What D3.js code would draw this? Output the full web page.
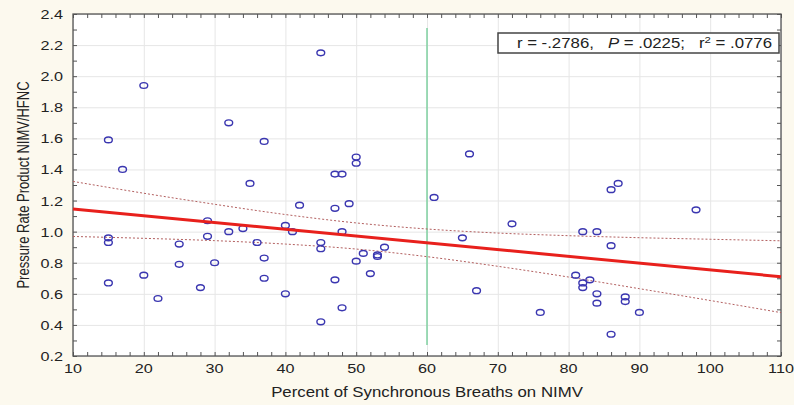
<!DOCTYPE html>
<html>
<head>
<meta charset="utf-8">
<script src="https://cdn.jsdelivr.net/npm/d3@7"></script>
<style>
body { margin: 0; background: #fcf9ee; }
svg { display: block; }
</style>
</head>
<body>
<svg id="chart"></svg>
<script>
// percent of synchronous breaths (x) and pressure rate product ratio (y)
var synchPct = [15, 17, 20, 32, 37, 35, 45, 47, 48, 50, 50,
                66, 86, 87, 61,
                15, 15, 15, 20, 22, 25, 25, 28, 29, 29, 30, 32, 34, 36, 37, 37, 40, 40, 41, 42,
                45, 45, 45, 47, 47, 48, 48, 49, 50, 51, 52, 53, 53, 54,
                98, 72, 65, 82, 84, 86, 81, 82, 82, 83, 84, 84, 88, 88, 90, 76, 67, 86];
var prpRatio = [1.59, 1.40, 1.94, 1.70, 1.58, 1.31, 2.15, 1.37, 1.37, 1.48, 1.44,
                1.50, 1.27, 1.31, 1.22,
                0.96, 0.93, 0.67, 0.72, 0.57, 0.92, 0.79, 0.64, 1.07, 0.97, 0.80, 1.00, 1.02, 0.93, 0.83, 0.70, 1.04, 0.60, 1.00, 1.17,
                0.93, 0.89, 0.42, 1.15, 0.69, 1.00, 0.51, 1.18, 0.81, 0.86, 0.73, 0.85, 0.84, 0.90,
                1.14, 1.05, 0.96, 1.00, 1.00, 0.91, 0.72, 0.67, 0.64, 0.69, 0.60, 0.54, 0.58, 0.55, 0.48, 0.48, 0.62, 0.34];

// regression line and 95% band
var fitX = [10, 110];
var fitY = [1.146, 0.710];
var bandX = [10, 20, 30, 40, 50, 60, 70, 80, 90, 100, 110];
var bandUpper = [1.323, 1.247, 1.176, 1.110, 1.056, 1.017, 0.991, 0.974, 0.961, 0.951, 0.941];
var bandLower = [0.969, 0.957, 0.942, 0.920, 0.888, 0.839, 0.777, 0.708, 0.633, 0.557, 0.479];

// cutoff marker at 60%
var cutoffX = [60, 60];
var cutoffY = [0.27, 2.31];

var xTicks = [10, 20, 30, 40, 50, 60, 70, 80, 90, 100, 110];
var yTicks = [0.2, 0.4, 0.6, 0.8, 1.0, 1.2, 1.4, 1.6, 1.8, 2.0, 2.2, 2.4];
var xMinor = d3.range(10, 111, 2);
var yMinor = d3.range(2, 25, 1).map(function(d) { return d / 10; });

var xTitle = "Percent of Synchronous Breaths on NIMV";
var yTitle = "Pressure Rate Product NIMV/HFNC";

var width = 794, height = 405;
var pLeft = 73, pRight = 781, pTop = 14, pBottom = 356;
var stretch = 1.2;

var svg = d3.select("#chart")
    .attr("width", width)
    .attr("height", height)
    .style("font-family", "Arial, 'Liberation Sans', sans-serif");

var x = d3.scaleLinear().domain([10, 110]).range([pLeft, pRight]);
var y = d3.scaleLinear().domain([0.2, 2.4]).range([pBottom, pTop]);

// plot area
svg.append("rect")
    .attr("x", pLeft).attr("y", pTop)
    .attr("width", pRight - pLeft).attr("height", pBottom - pTop)
    .attr("fill", "#ffffff");

// grid
svg.append("g")
    .attr("transform", "translate(0," + pBottom + ")")
    .call(d3.axisBottom(x).tickValues(xTicks).tickSize(-(pBottom - pTop)).tickFormat(""))
    .call(function(g) { g.select(".domain").remove(); })
    .selectAll("line").attr("stroke", "#e6e6e6");
svg.append("g")
    .attr("transform", "translate(" + pLeft + ",0)")
    .call(d3.axisLeft(y).tickValues(yTicks).tickSize(-(pRight - pLeft)).tickFormat(""))
    .call(function(g) { g.select(".domain").remove(); })
    .selectAll("line").attr("stroke", "#e6e6e6");

// minor ticks on all sides, pointing inward
function ticks(g) {
  g.select(".domain").remove();
  g.selectAll("line").attr("stroke", "#555").attr("stroke-width", 1);
}
svg.append("g").attr("transform", "translate(0," + pBottom + ")")
    .call(d3.axisBottom(x).tickValues(xMinor).tickSize(-4).tickFormat("")).call(ticks);
svg.append("g").attr("transform", "translate(0," + pTop + ")")
    .call(d3.axisTop(x).tickValues(xMinor).tickSize(-4).tickFormat("")).call(ticks);
svg.append("g").attr("transform", "translate(" + pLeft + ",0)")
    .call(d3.axisLeft(y).tickValues(yMinor).tickSize(-4).tickFormat("")).call(ticks);
svg.append("g").attr("transform", "translate(" + pRight + ",0)")
    .call(d3.axisRight(y).tickValues(yMinor).tickSize(-4).tickFormat("")).call(ticks);

// frame
svg.append("rect")
    .attr("x", pLeft).attr("y", pTop)
    .attr("width", pRight - pLeft).attr("height", pBottom - pTop)
    .attr("fill", "none").attr("stroke", "#555").attr("stroke-width", 1.3);

// tick labels
svg.append("g").selectAll("text")
    .data(xTicks).enter().append("text")
    .attr("transform", function(d) { return "translate(" + x(d) + "," + (pBottom + 17) + ") scale(" + stretch + ",1)"; })
    .attr("text-anchor", "middle")
    .attr("font-size", 13.5)
    .attr("fill", "#222")
    .text(function(d) { return d; });
svg.append("g").selectAll("text")
    .data(yTicks).enter().append("text")
    .attr("transform", function(d) { return "translate(" + (pLeft - 10) + "," + (y(d) + 5) + ") scale(" + stretch + ",1)"; })
    .attr("text-anchor", "end")
    .attr("font-size", 13.5)
    .attr("fill", "#222")
    .text(function(d) { return d3.format(".1f")(d); });

// axis titles
svg.append("text")
    .attr("transform", "translate(" + 427 + "," + 397 + ") scale(" + stretch + ",1)")
    .attr("text-anchor", "middle")
    .attr("font-size", 14)
    .attr("fill", "#222")
    .text(xTitle);
svg.append("text")
    .attr("transform", "translate(" + 29 + "," + 185 + ") scale(" + stretch + ",1) rotate(-90)")
    .attr("text-anchor", "middle")
    .attr("font-size", 13)
    .attr("fill", "#222")
    .text(yTitle);

// cutoff line
svg.append("line")
    .attr("x1", x(cutoffX[0])).attr("x2", x(cutoffX[1]))
    .attr("y1", y(cutoffY[0])).attr("y2", y(cutoffY[1]))
    .attr("stroke", "#7fd0a0").attr("stroke-width", 1.5);

// confidence band
var bandLine = d3.line().curve(d3.curveMonotoneX)
    .x(function(d) { return x(d[0]); })
    .y(function(d) { return y(d[1]); });
[bandUpper, bandLower].forEach(function(b) {
  svg.append("path")
      .attr("d", bandLine(d3.zip(bandX, b)))
      .attr("fill", "none")
      .attr("stroke", "#b36060")
      .attr("stroke-width", 1)
      .attr("stroke-dasharray", "2,2");
});

// points
svg.append("g").selectAll("ellipse")
    .data(d3.zip(synchPct, prpRatio)).enter().append("ellipse")
    .attr("cx", function(d) { return x(d[0]); })
    .attr("cy", function(d) { return y(d[1]); })
    .attr("rx", 3.9).attr("ry", 2.9)
    .attr("fill", "none")
    .attr("stroke", "#3a36b0")
    .attr("stroke-width", 1.4);

// fit line
svg.append("path")
    .attr("d", bandLine(d3.zip(fitX, fitY)))
    .attr("fill", "none")
    .attr("stroke", "#e8201c")
    .attr("stroke-width", 3);

// stats box
svg.append("rect")
    .attr("x", 498).attr("y", 33)
    .attr("width", 281).attr("height", 20)
    .attr("fill", "#fff").attr("stroke", "#444").attr("stroke-width", 1.5);
var stat = svg.append("text")
    .attr("transform", "translate(" + 772 + "," + 48 + ") scale(" + stretch + ",1)")
    .attr("text-anchor", "end")
    .attr("font-size", 14)
    .attr("fill", "#222")
    .style("white-space", "pre");
stat.append("tspan").text("r = -.2786,   ");
stat.append("tspan").attr("font-style", "italic").text("P");
stat.append("tspan").text(" = .0225;   r");
stat.append("tspan").attr("font-size", 9.5).attr("dy", -5).text("2");
stat.append("tspan").attr("dy", 5).text(" = .0776");
</script>
</body>
</html>
